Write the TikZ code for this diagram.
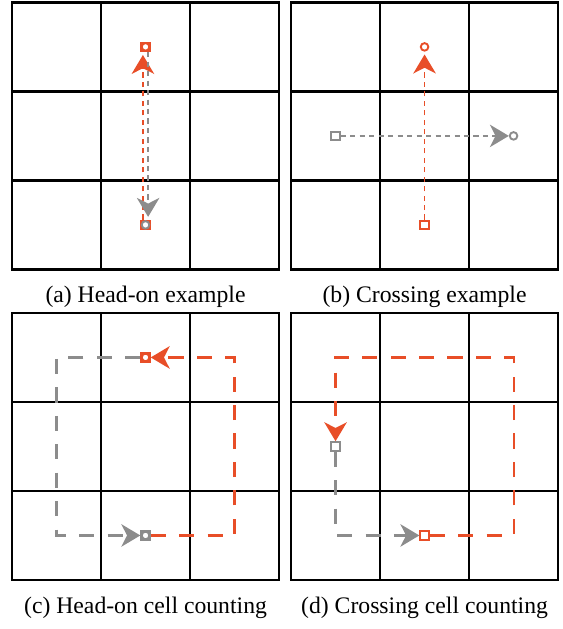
\documentclass[tikz,border=0pt]{standalone}
\usepackage{fontspec}
\setmainfont{Liberation Serif}
\usetikzlibrary{arrows.meta,positioning}
\definecolor{redbot}{RGB}{232,78,40}
\definecolor{graybot}{RGB}{140,140,140}

\tikzset{
  cellgrid/.style={line width=1pt},
  startmark/.style={draw=#1,fill=white,line width=0.8pt,rectangle,minimum size=3.6pt,inner sep=0pt},
  goalmark/.style={draw=#1,fill=white,line width=0.8pt,circle,minimum size=3.2pt,inner sep=0pt},
  shortdash/.style={draw=#1,line width=0.75pt,dash pattern=on 2.2pt off 1.8pt},
  longdash/.style={draw=#1,line width=0.9pt,dash pattern=on 6.4pt off 5.6pt},
  headarrow/.style={-{Stealth[length=8pt,width=9.5pt,inset=2.4pt]}},
  subcap/.style={font=\fontsize{10pt}{12pt}\selectfont}
}

\begin{document}
\begin{tikzpicture}[x=1.32cm,y=1.32cm]
  \useasboundingbox (0,0) rectangle (6.315,7.067);
  % the four 3x3 grids
  \foreach \gx/\gy in {0.135/4.04, 3.27/4.04, 0.135/0.551, 3.27/0.551} {
    \begin{scope}[shift={(\gx,\gy)}]
      \draw[cellgrid] (0,0) rectangle (3,3);
      \foreach \k in {1,2} {
        \draw[cellgrid] (\k,0) -- (\k,3);
        \draw[cellgrid] (0,\k) -- (3,\k);
      }
    \end{scope}
  }
  % (a) head-on
  \begin{scope}[shift={(0.135,4.04)}]
    \node[startmark=redbot] (aRs) at (1.5,0.5) {};
    \node[goalmark=graybot] (aGg) at (1.5,0.5) {};
    \node[startmark=redbot] (aGs) at (1.5,2.5) {};
    \node[goalmark=redbot] (aRg) at (1.5,2.5) {};
    \draw[shortdash=redbot,headarrow,shorten >=1.2pt] ([xshift=-1.1pt]aRs.north) -- ([xshift=-1.1pt]aGs.south);
    \draw[shortdash=graybot,headarrow,shorten >=1.2pt] ([xshift=1.1pt]aGs.south) -- ([xshift=1.1pt]aRs.north);
  \end{scope}
  % (b) crossing
  \begin{scope}[shift={(3.27,4.04)}]
    \node[startmark=redbot] (bRs) at (1.5,0.5) {};
    \node[goalmark=redbot] (bRg) at (1.5,2.5) {};
    \node[startmark=graybot] (bGs) at (0.5,1.5) {};
    \node[goalmark=graybot] (bGg) at (2.5,1.5) {};
    \draw[shortdash=graybot,headarrow] (bGs) -- (bGg);
    \draw[shortdash=redbot,headarrow,shorten >=1.2pt] (bRs) -- (bRg);
  \end{scope}
  % (c) head-on, counting cells
  \begin{scope}[shift={(0.135,0.551)}]
    \node[startmark=graybot] (cRs) at (1.5,0.5) {};
    \node[goalmark=graybot] (cGg) at (1.5,0.5) {};
    \node[startmark=redbot] (cGs) at (1.5,2.5) {};
    \node[goalmark=redbot] (cRg) at (1.5,2.5) {};
    \draw[longdash=graybot,headarrow] (cGs) -| (0.5,0.5) -- (cRs);
    \draw[longdash=redbot,headarrow] (cRs) -| (2.5,2.5) -- (cGs);
  \end{scope}
  % (d) crossing, counting cells
  \begin{scope}[shift={(3.27,0.551)}]
    \node[startmark=redbot] (dR) at (1.5,0.5) {};
    \node[startmark=graybot] (dG) at (0.5,1.5) {};
    \draw[longdash=graybot,headarrow] (dG) |- (dR);
    \draw[longdash=redbot,headarrow] (dR) -| (2.5,2.5) -| (dG);
  \end{scope}
  \node[subcap] (capA) at (1.635,3.73) {(a) Head-on example};
  \node[subcap] (capB) at (4.77,3.73) {(b) Crossing example};
  \node[subcap] (capC) at (1.635,0.236) {(c) Head-on cell counting};
  \node[subcap] (capD) at (4.77,0.236) {(d) Crossing cell counting};
\end{tikzpicture}
\end{document}
